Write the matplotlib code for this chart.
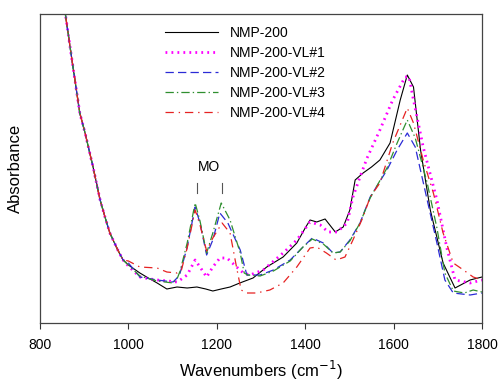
import matplotlib
matplotlib.use("Agg")
import matplotlib.pyplot as plt

plt.rcParams['font.family'] = ['Liberation Sans', 'DejaVu Sans']
plt.rcParams['lines.scale_dashes'] = False

# common steep onset (all samples overlap)
w_common = [850, 857, 870, 890, 902, 920, 936, 947, 958, 976, 988]
a_common = [3.30, 3.10, 2.70, 2.10, 1.90, 1.56, 1.23, 1.06, 0.90, 0.73, 0.63]

w_nmp = [1000, 1026, 1045, 1065, 1087, 1110, 1133, 1155, 1175, 1191, 1210, 1230, 1252, 1282,
         1313, 1350, 1381, 1400, 1411, 1426, 1445, 1468, 1486, 1501, 1513, 1531, 1550, 1569,
         1592, 1615, 1631, 1645, 1661, 1683, 1712, 1739, 1773, 1800]
a_nmp = [0.58, 0.50, 0.45, 0.40, 0.34, 0.36, 0.35, 0.36, 0.34, 0.32, 0.34, 0.36, 0.40, 0.45,
         0.56, 0.66, 0.80, 0.95, 1.03, 1.01, 1.04, 0.91, 0.96, 1.13, 1.43, 1.50, 1.56, 1.63,
         1.80, 2.23, 2.48, 2.36, 1.73, 1.13, 0.60, 0.35, 0.43, 0.46]

w_vl1 = [1000, 1026, 1050, 1065, 1090, 1110, 1117, 1133, 1151, 1162, 1177, 1191, 1207, 1223,
         1245, 1260, 1275, 1305, 1350, 1381, 1411, 1434, 1452, 1472, 1495, 1508, 1524, 1540,
         1569, 1598, 1626, 1635, 1645, 1667, 1698, 1720, 1739, 1773, 1800]
a_vl1 = [0.57, 0.46, 0.44, 0.43, 0.42, 0.41, 0.43, 0.48, 0.63, 0.56, 0.46, 0.56, 0.65, 0.65,
         0.56, 0.50, 0.48, 0.53, 0.70, 0.83, 1.01, 0.98, 0.91, 0.91, 1.00, 1.26, 1.46, 1.65,
         1.93, 2.23, 2.46, 2.46, 2.23, 1.76, 1.23, 0.76, 0.43, 0.40, 0.43]

w_vl2 = [1000, 1026, 1065, 1101, 1110, 1117, 1133, 1151, 1162, 1177, 1191, 1207, 1225, 1253,
         1268, 1298, 1328, 1366, 1395, 1416, 1441, 1463, 1479, 1501, 1524, 1547, 1585, 1608,
         1631, 1649, 1676, 1698, 1716, 1735, 1773, 1800]
a_vl2 = [0.60, 0.46, 0.43, 0.41, 0.45, 0.50, 0.76, 1.16, 1.00, 0.68, 0.83, 1.10, 1.00, 0.73,
         0.48, 0.48, 0.53, 0.63, 0.76, 0.85, 0.80, 0.70, 0.71, 0.83, 1.00, 1.26, 1.53, 1.73,
         1.90, 1.76, 1.23, 0.80, 0.43, 0.30, 0.28, 0.30]

w_vl3 = [1000, 1026, 1065, 1101, 1110, 1117, 1133, 1151, 1162, 1177, 1191, 1210, 1230, 1253,
         1262, 1270, 1298, 1328, 1366, 1395, 1416, 1441, 1463, 1479, 1501, 1524, 1547, 1585,
         1608, 1631, 1649, 1676, 1698, 1716, 1735, 1760, 1780, 1800]
a_vl3 = [0.58, 0.47, 0.42, 0.40, 0.44, 0.52, 0.80, 1.20, 1.02, 0.70, 0.90, 1.20, 1.03, 0.70,
         0.50, 0.48, 0.47, 0.52, 0.62, 0.76, 0.84, 0.79, 0.70, 0.71, 0.82, 1.00, 1.25, 1.55,
         1.80, 2.03, 1.85, 1.40, 0.95, 0.50, 0.32, 0.30, 0.33, 0.31]

w_vl4 = [1000, 1026, 1065, 1087, 1110, 1120, 1133, 1151, 1162, 1177, 1191, 1212, 1230, 1245,
         1255, 1268, 1290, 1320, 1350, 1381, 1411, 1426, 1448, 1470, 1490, 1508, 1531, 1547,
         1569, 1598, 1631, 1645, 1667, 1690, 1712, 1735, 1758, 1780, 1800]
a_vl4 = [0.62, 0.56, 0.55, 0.51, 0.50, 0.53, 0.75, 1.13, 0.98, 0.72, 0.85, 1.00, 0.90, 0.55,
         0.33, 0.30, 0.30, 0.33, 0.40, 0.56, 0.75, 0.76, 0.70, 0.63, 0.66, 0.83, 1.06, 1.26,
         1.40, 1.80, 2.15, 2.00, 1.63, 1.30, 0.90, 0.60, 0.53, 0.46, 0.43]

labels = ['NMP-200', 'NMP-200-VL#1', 'NMP-200-VL#2', 'NMP-200-VL#3', 'NMP-200-VL#4']
xticks = [800, 1000, 1200, 1400, 1600, 1800]
mo_peaks = [1155, 1212]

fig = plt.figure(figsize=(5.03, 3.84), dpi=100)
ax = fig.add_axes([40/503, 1-323/384, 442/503, 309/384])

series = [(w_nmp, a_nmp), (w_vl1, a_vl1), (w_vl2, a_vl2), (w_vl3, a_vl3), (w_vl4, a_vl4)]
styles = [
    dict(color='black', lw=0.8, ls='-'),
    dict(color='#ff00ff', lw=2.0, dashes=(1.3, 3.0)),
    dict(color='#2b2bd6', lw=0.9, dashes=(6, 3)),
    dict(color='#2f8f2f', lw=0.9, dashes=(6, 2.2, 1, 2.2)),
    dict(color='#e62222', lw=0.9, dashes=(6, 3.5, 1, 3.5)),
]
for (w, a), st, lab in zip(series, styles, labels):
    ax.plot(w_common + w, a_common + a, label=lab, **st)

ax.set_xlim(800, 1800)
ax.set_ylim(0, 3.09)
ax.set_xticks(xticks)
ax.set_yticks([])
ax.tick_params(axis='x', direction='out', length=4, width=0.8, labelsize=10, pad=7,
               top=False, colors='#333333')
ax.tick_params(axis='x', labelcolor='black')
for s in ax.spines.values():
    s.set_color('#444444')
    s.set_linewidth(0.9)

ax.set_xlabel('Wavenumbers (cm$^{-1}$)', fontsize=12, labelpad=5)
ax.set_ylabel('Absorbance', fontsize=12, labelpad=12)

# MO annotation
ax.text(1183, 1.56, 'MO', ha='center', va='center', fontsize=10)
for p in mo_peaks:
    ax.plot([p, p], [1.30, 1.40], color='#555555', lw=0.8)

ax.legend(loc='upper left', bbox_to_anchor=(0.283, 0.962), frameon=False, fontsize=10,
          handlelength=3.8, handletextpad=0.9, labelspacing=0.44, borderpad=0,
          borderaxespad=0)

fig.savefig('out.png', dpi=100)
